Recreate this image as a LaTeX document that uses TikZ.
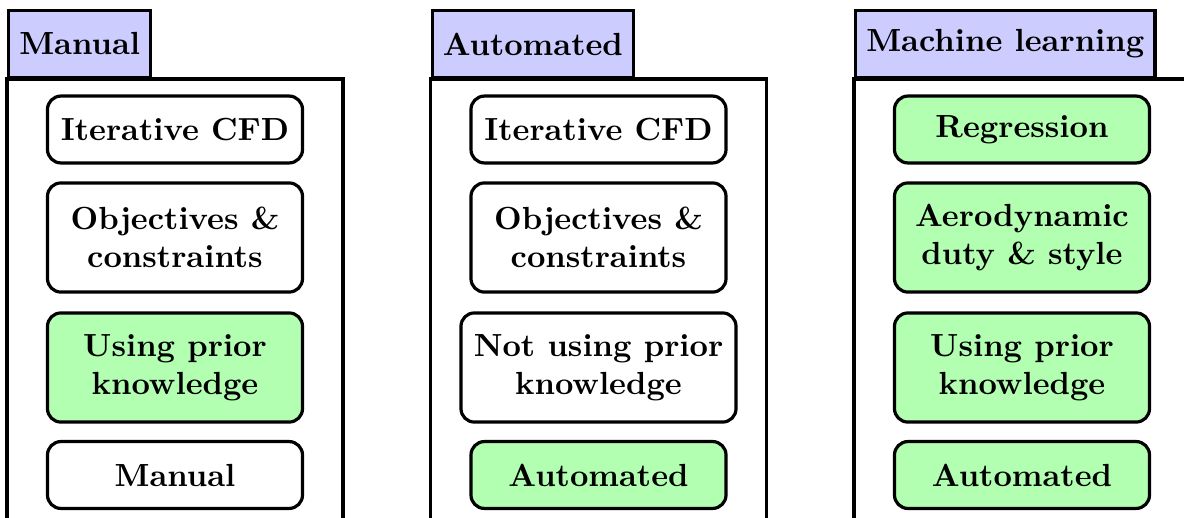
\documentclass[tikz,border=0pt]{standalone}
\begin{document}
\begin{tikzpicture}[x=0.3125pt,y=-0.3125pt,line width=1pt,
  container/.style={draw,line width=1pt},
  tab/.style={draw,line width=1pt,fill=blue!20,font=\bfseries,minimum height=20.9pt,anchor=south west},
  item/.style={draw,line width=1pt,rounded corners=4.2pt,font=\bfseries,align=center,minimum width=79.7pt,inner xsep=4pt},
  one/.style={item,minimum height=20.9pt},
  two/.style={item,minimum height=34.1pt},
  hit/.style={fill=green!30}]
\useasboundingbox (0,0) rectangle (1184,518);
\clip (0,0) rectangle (1184,518);
% containers
\draw[container] (7,79) rectangle (343,570);
\draw[container] (430.5,79) rectangle (766.5,570);
\draw[container] (854,79) rectangle (1190,570);
% tabs
\node[tab] (t1) at (7,79) {Manual};
\node[tab] (t2) at (430.5,79) {Automated};
\node[tab] (t3) at (854,79) {Machine learning};
% column 1
\node[one] (a1) at (175,129.5) {Iterative CFD};
\node[two] (a2) at (175,237.5) {Objectives \&\\constraints};
\node[two,hit] (a3) at (175,367.5) {Using prior\\knowledge};
\node[one] (a4) at (175,475) {Manual};
% column 2
\node[one] (b1) at (598.5,129.5) {Iterative CFD};
\node[two] (b2) at (598.5,237.5) {Objectives \&\\constraints};
\node[two] (b3) at (598.5,367.5) {Not using prior\\knowledge};
\node[one,hit] (b4) at (598.5,475) {Automated};
% column 3
\node[one,hit] (c1) at (1022,129.5) {Regression};
\node[two,hit] (c2) at (1022,237.5) {Aerodynamic\\duty \& style};
\node[two,hit] (c3) at (1022,367.5) {Using prior\\knowledge};
\node[one,hit] (c4) at (1022,475) {Automated};
\end{tikzpicture}
\end{document}
